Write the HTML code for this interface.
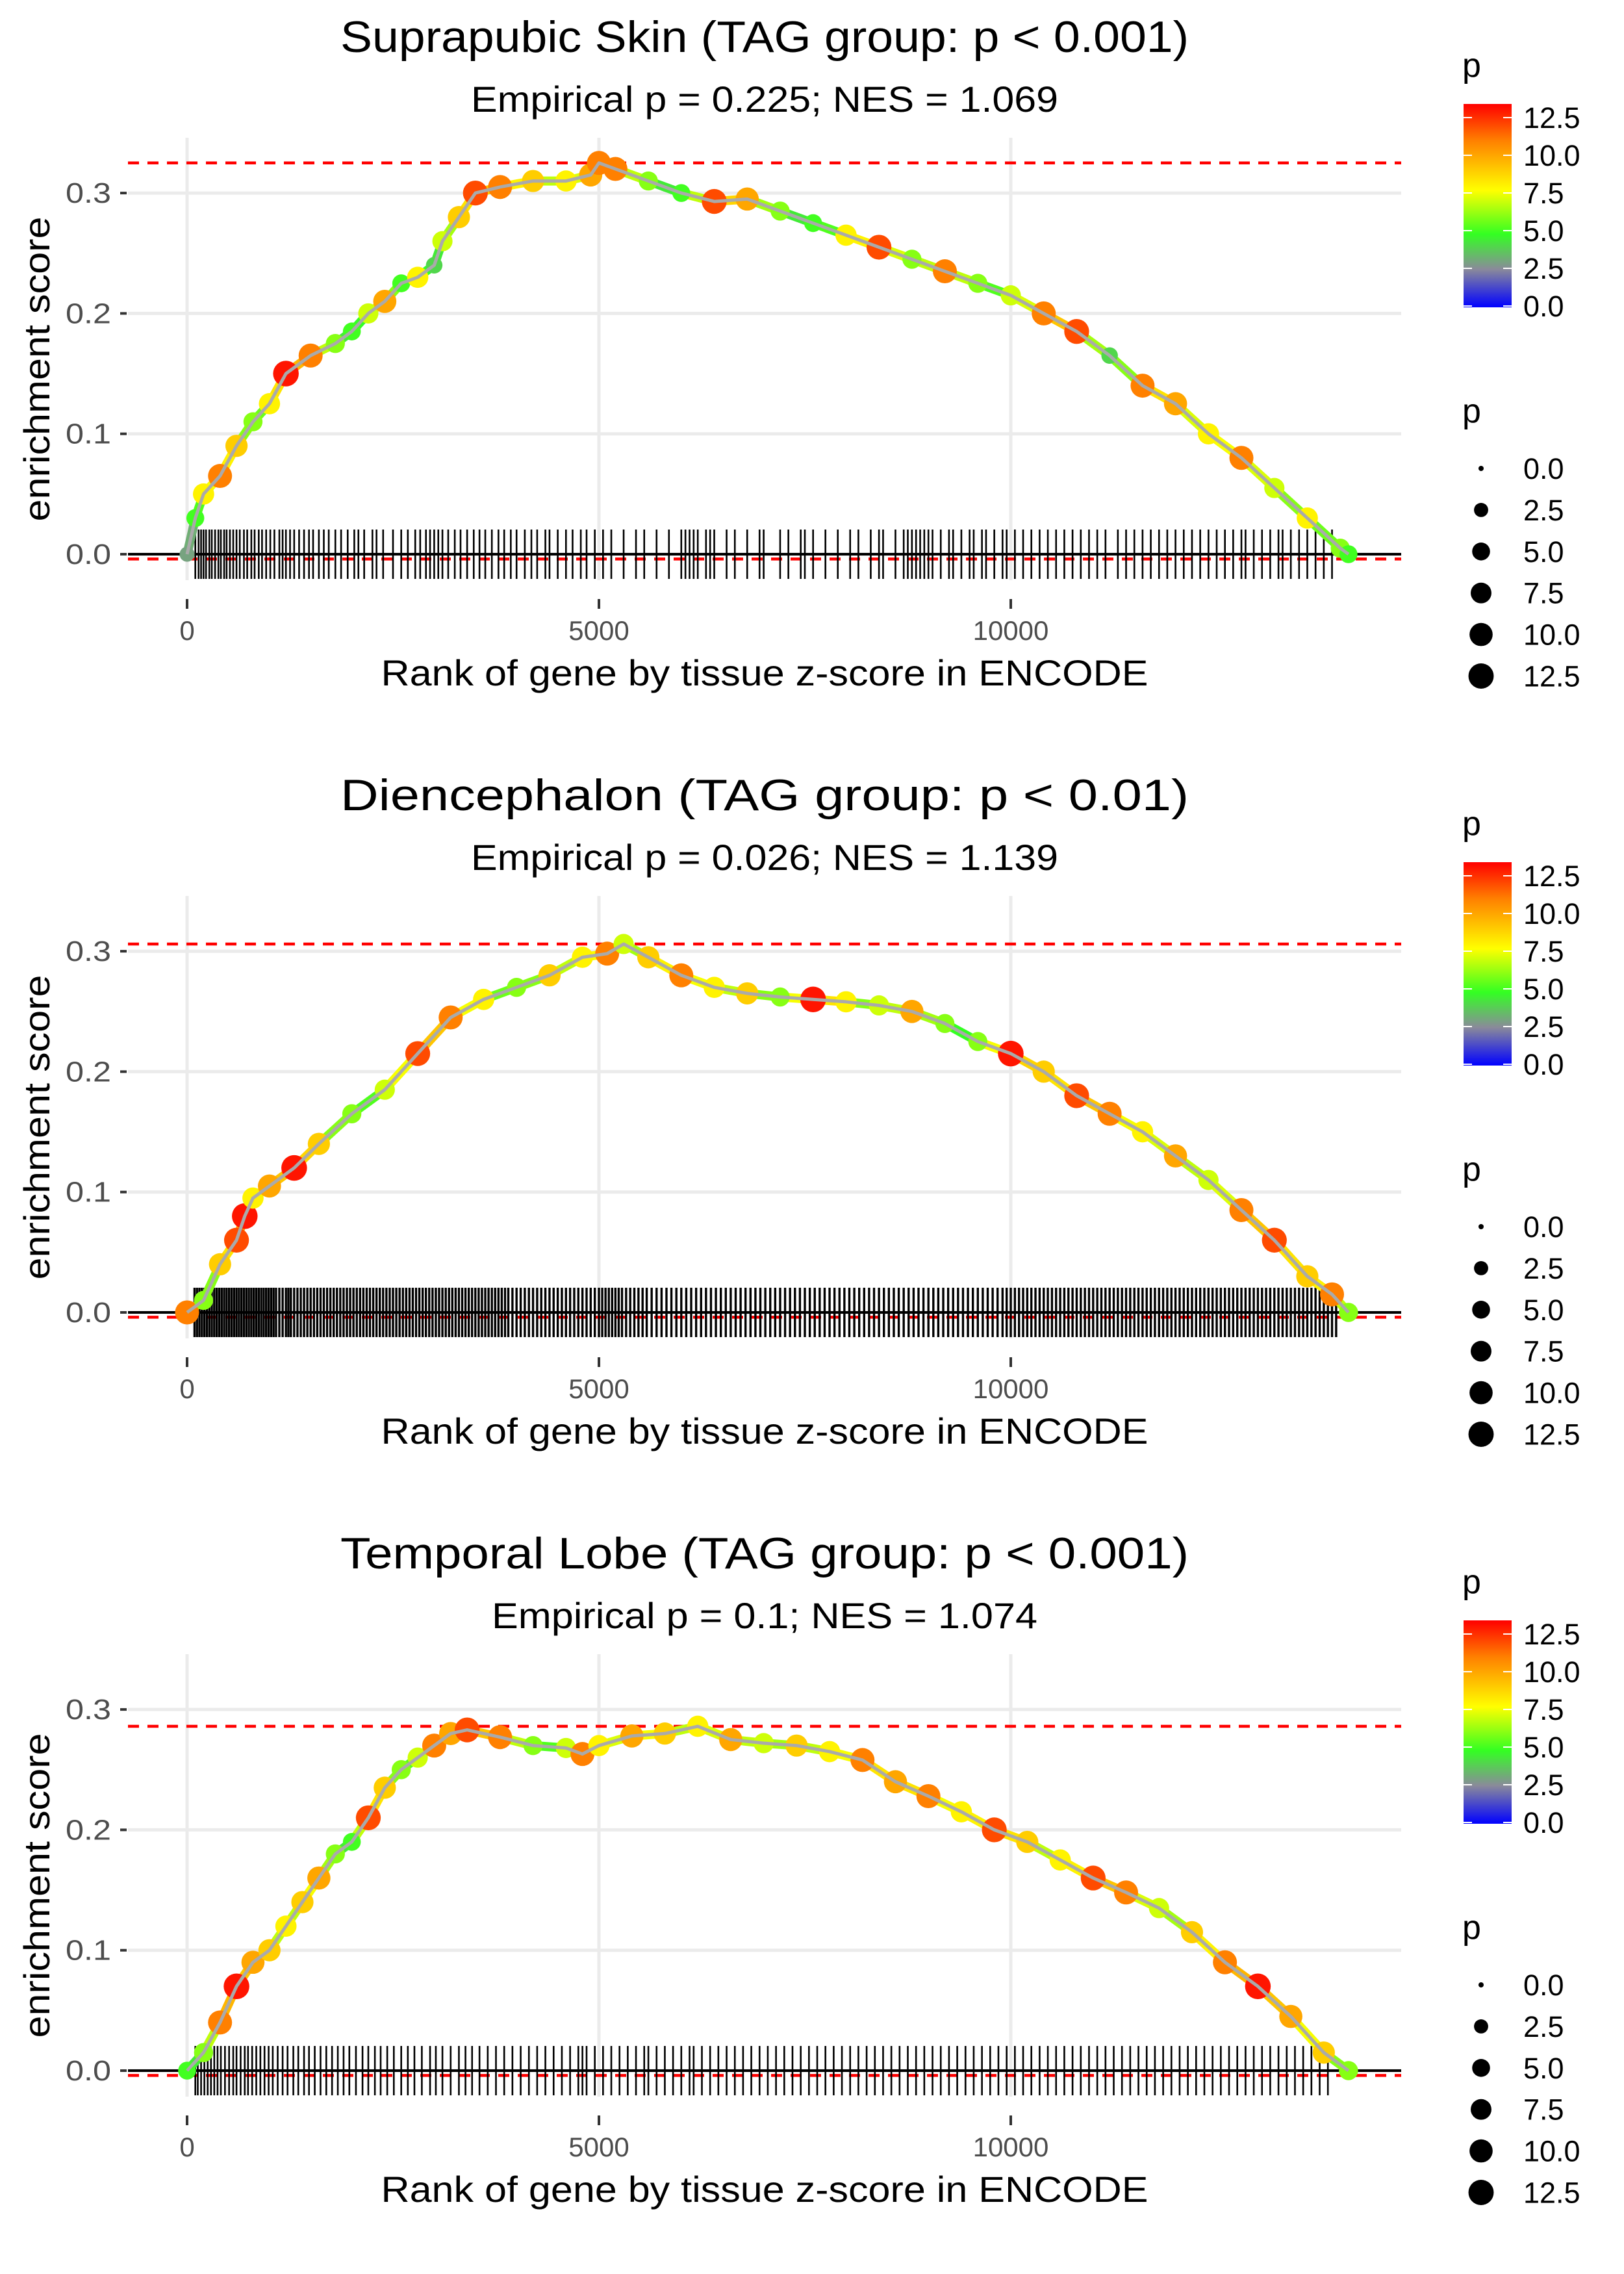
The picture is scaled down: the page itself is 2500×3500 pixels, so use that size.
<!DOCTYPE html>
<html><head><meta charset="utf-8">
<style>
html,body{margin:0;padding:0;background:#fff;}
svg{display:block;font-family:"Liberation Sans",sans-serif;}
</style></head>
<body>
<svg id="chart" width="2500" height="3500" viewBox="0 0 2500 3500" xmlns="http://www.w3.org/2000/svg">
<defs>
<linearGradient id="cbar" x1="0" y1="1" x2="0" y2="0">
<stop offset="0" stop-color="#0000ff"/>
<stop offset="0.187" stop-color="#8a8a9a"/>
<stop offset="0.36" stop-color="#33ff22"/>
<stop offset="0.575" stop-color="#ffff00"/>
<stop offset="0.82" stop-color="#ff8000"/>
<stop offset="1" stop-color="#ff0000"/>
</linearGradient>
</defs>
</svg>
<script>
// ---- data ----
const panelTitles = ["Suprapubic Skin (TAG group: p < 0.001)","Diencephalon (TAG group: p < 0.01)","Temporal Lobe (TAG group: p < 0.001)"];
const panelSubtitles = ["Empirical p = 0.225; NES = 1.069","Empirical p = 0.026; NES = 1.139","Empirical p = 0.1; NES = 1.074"];
const xTicks = [0,5000,10000];
const xTickLabels = ["0","5000","10000"];
const yTicks = [0,0.1,0.2,0.3];
const yTickLabels = ["0.0","0.1","0.2","0.3"];
const legendTicks = [0,2.5,5,7.5,10,12.5];
const legendLabels = ["0.0","2.5","5.0","7.5","10.0","12.5"];

const ranks1 = [0,100,200,400,600,800,1000,1200,1500,1800,2000,2200,2400,2600,2800,3000,3100,3300,3500,3800,4200,4600,4900,5000,5200,5600,6000,6400,6800,7200,7600,8000,8400,8800,9200,9600,10000,10400,10800,11200,11600,12000,12400,12800,13200,13600,14000,14100];
const es1 = [0,0.03,0.05,0.065,0.09,0.11,0.125,0.15,0.165,0.175,0.185,0.2,0.21,0.225,0.23,0.24,0.26,0.28,0.3,0.305,0.31,0.31,0.315,0.325,0.32,0.31,0.3,0.293,0.295,0.285,0.275,0.265,0.255,0.245,0.235,0.225,0.215,0.2,0.185,0.165,0.14,0.125,0.1,0.08,0.055,0.03,0.005,0];
const p1 = [3,5,8,11,9,6,8,13,11,6,5,7,10,5,8,4,7,9,12,11,9,8,10,11,11,6,5,12,10,6,5,8,12,6,11,6,7,11,12,4,11,10,8,11,7,8,6,5];
const hits1 = [100,140,170,200,230,270,300,340,380,410,450,480,520,560,600,640,690,730,780,820,870,910,960,1010,1060,1120,1160,1200,1250,1300,1360,1420,1480,1530,1600,1660,1720,1800,1870,1950,2030,2080,2150,2250,2300,2380,2500,2600,2680,2770,2830,2900,2950,3000,3050,3100,3170,3250,3320,3400,3480,3550,3620,3700,3780,3850,3930,4000,4100,4180,4250,4350,4400,4500,4600,4680,4780,4850,4950,5050,5150,5300,5450,5550,5700,5850,6000,6050,6100,6150,6200,6300,6350,6400,6550,6650,6800,6950,7000,7200,7300,7450,7500,7600,7750,7900,8050,8150,8300,8400,8450,8600,8700,8750,8800,8850,8900,8950,9000,9050,9150,9250,9300,9400,9500,9550,9650,9700,9800,9900,9950,10050,10150,10250,10350,10450,10550,10650,10750,10850,10950,11050,11150,11300,11400,11500,11600,11700,11800,11900,12000,12100,12200,12300,12400,12500,12600,12700,12800,12850,12950,13050,13150,13250,13300,13400,13500,13600,13700,13800,13900];

const ranks2 = [0,200,400,600,700,800,1000,1300,1600,2000,2400,2800,3200,3600,4000,4400,4800,5100,5300,5600,6000,6400,6800,7200,7600,8000,8400,8800,9200,9600,10000,10400,10800,11200,11600,12000,12400,12800,13200,13600,13900,14100];
const es2 = [0,0.01,0.04,0.06,0.08,0.095,0.105,0.12,0.14,0.165,0.185,0.215,0.245,0.26,0.27,0.28,0.295,0.298,0.306,0.295,0.28,0.27,0.265,0.262,0.26,0.258,0.255,0.25,0.24,0.225,0.215,0.2,0.18,0.165,0.15,0.13,0.11,0.085,0.06,0.03,0.015,0];
const p2 = [11,6,9,12,13,8,10,13,9,6,7,12,11,8,6,9,8,11,7,9,11,8,9,6,13,8,7,10,6,6,13,9,12,11,8,10,7,11,12,9,11,6];
const hits2 = [];
const hits2Str = "90,120,150,180,210,240,270,300,330,360,390,420,450,480,510,540,570,600,630,660,690,720,750,780,810,840,870,900,930,960,990,1020,1050,1080,1120,1160,1200,1230,1260,1300,1340,1380,1420,1460,1500,1540,1580,1620,1660,1700,1740,1780,1820,1860,1900,1940,1980,2020,2060,2100,2140,2180,2220,2260,2300,2340,2380,2420,2460,2500,2540,2580,2620,2660,2700,2740,2780,2820,2860,2900,2940,2980,3020,3060,3100,3140,3180,3220,3260,3300,3340,3380,3420,3460,3500,3540,3580,3620,3660,3700,3740,3780,3820,3860,3900,3950,4000,4050,4100,4150,4200,4250,4300,4350,4400,4450,4500,4550,4600,4650,4700,4750,4800,4850,4900,4950,5000,5040,5080,5120,5160,5200,5240,5280,5330,5380,5430,5480,5530,5580,5640,5700,5760,5820,5880,5940,6000,6060,6120,6180,6240,6300,6360,6420,6480,6540,6600,6660,6720,6780,6840,6900,6960,7020,7080,7140,7200,7260,7320,7380,7440,7500,7560,7620,7680,7740,7800,7860,7920,7980,8040,8100,8160,8220,8280,8340,8400,8460,8520,8580,8640,8700,8760,8820,8880,8940,9000,9060,9120,9180,9240,9300,9360,9420,9480,9540,9600,9660,9720,9780,9840,9900,9950,10000,10050,10100,10150,10200,10250,10300,10350,10400,10450,10500,10550,10600,10650,10700,10750,10800,10850,10900,10950,11000,11050,11100,11150,11200,11250,11300,11350,11400,11450,11500,11550,11600,11650,11700,11750,11800,11850,11900,11950,12000,12050,12100,12150,12200,12250,12300,12350,12400,12450,12500,12550,12600,12650,12700,12750,12800,12850,12900,12950,13000,13050,13100,13150,13200,13250,13300,13350,13400,13450,13500,13550,13600,13650,13700,13750,13800,13850,13900,13950";
hits2Str.split(",").forEach(v=>hits2.push(+v));

const ranks3 = [0,200,400,600,800,1000,1200,1400,1600,1800,2000,2200,2400,2600,2800,3000,3200,3400,3800,4200,4600,4800,5000,5400,5800,6200,6600,7000,7400,7800,8200,8600,9000,9400,9800,10200,10600,11000,11400,11800,12200,12600,13000,13400,13800,14100];
const es3 = [0,0.015,0.04,0.07,0.09,0.1,0.12,0.14,0.16,0.18,0.19,0.21,0.235,0.25,0.26,0.27,0.28,0.283,0.277,0.27,0.268,0.263,0.27,0.278,0.28,0.286,0.275,0.272,0.27,0.265,0.258,0.24,0.228,0.215,0.2,0.19,0.175,0.16,0.148,0.135,0.115,0.09,0.07,0.045,0.015,0];
const p3 = [5,6,11,13,10,9,8,9,10,6,5,12,9,6,7,11,10,12,11,6,7,11,8,10,9,8,10,7,9,8,11,10,11,8,12,9,8,12,11,7,9,11,13,10,9,6];
const hits3 = [100,130,170,210,250,290,330,370,410,460,510,560,600,650,700,740,790,840,890,940,990,1040,1100,1160,1220,1290,1350,1420,1480,1550,1620,1690,1760,1830,1900,1970,2050,2130,2200,2280,2350,2430,2510,2600,2680,2760,2850,2950,3020,3100,3200,3300,3380,3460,3550,3650,3750,3850,3950,4050,4150,4250,4350,4450,4550,4650,4750,4800,4850,4950,5050,5150,5250,5350,5450,5550,5600,5700,5800,5900,6000,6100,6150,6250,6350,6450,6550,6650,6750,6850,6950,7050,7150,7250,7350,7450,7550,7650,7750,7850,7950,8050,8150,8250,8350,8450,8550,8650,8750,8850,8950,9050,9150,9250,9350,9450,9550,9650,9750,9850,9950,10050,10150,10250,10350,10450,10550,10650,10750,10850,10950,11050,11150,11250,11350,11450,11550,11650,11750,11850,11950,12050,12150,12250,12350,12450,12550,12650,12750,12850,12950,13050,13150,13250,13350,13450,13550,13650,13750,13850];

const panelRanks = [ranks1,ranks2,ranks3];
const panelES = [es1,es2,es3];
const panelP = [p1,p2,p3];
const panelHits = [hits1,hits2,hits3];

// ---- drawing ----
const NS="http://www.w3.org/2000/svg";
const svg=document.getElementById('chart');
function mk(tag,attrs,parent){const e=document.createElementNS(NS,tag);for(const k in attrs)e.setAttribute(k,attrs[k]);(parent||svg).appendChild(e);return e;}
const PLOT_L=197,PLOT_R=2157;
const PANEL_DY=1167;
function X(r){return 288+r*0.1268;}
function Yf(k){const y0=853+k*PANEL_DY;return v=>y0-v*1853;}
const stops=[[0,[0,0,255]],[2.5,[138,138,154]],[4.8,[51,255,34]],[7.7,[255,255,0]],[11,[255,128,0]],[13.4,[255,0,0]]];
function col(p){for(let i=1;i<stops.length;i++){if(p<=stops[i][0]){const a=stops[i-1],b=stops[i];const t=(p-a[0])/(b[0]-a[0]);const c=a[1].map((v,j)=>Math.round(v+(b[1][j]-v)*t));return `rgb(${c.join(',')})`;}}return 'rgb(255,0,0)';}
function rad(p){return 4+16*Math.sqrt(Math.max(p,0)/13.4);}

for(let k=0;k<3;k++){
  const Y=Yf(k), off=k*PANEL_DY;
  const g=mk('g',{});
  
  
  yTicks.forEach((t,i)=>{
    const l=mk('line',{x1:PLOT_L,x2:PLOT_R,y1:Y(t),y2:Y(t),stroke:'#ebebeb','stroke-width':5},g);
    
    
    const tk=mk('line',{x1:PLOT_L-12,x2:PLOT_L-2,y1:Y(t),y2:Y(t),stroke:'#333','stroke-width':4},g);
    
    
    const tx=mk('text',{x:PLOT_L-26,y:Y(t)+15,'text-anchor':'end','font-size':44,fill:'#4d4d4d',textLength:70,lengthAdjust:'spacingAndGlyphs'},g);
    tx.textContent=yTickLabels[i];
    
    
  });
  xTicks.forEach((t,i)=>{
    const l=mk('line',{x1:X(t),x2:X(t),y1:212+off,y2:893+off,stroke:'#ebebeb','stroke-width':5},g);
    
    
    const tk=mk('line',{x1:X(t),x2:X(t),y1:922+off,y2:937+off,stroke:'#333','stroke-width':4},g);
    
    
    const tx=mk('text',{x:X(t),y:985+off,'text-anchor':'middle','font-size':42,fill:'#4d4d4d'},g);
    tx.textContent=xTickLabels[i];
    
    
  });
  const es=panelES[k], rk=panelRanks[k], pp=panelP[k];
  const mx=Math.max(...es), mn=Math.min(...es, -0.004);
  [mx,mn].forEach((v,i)=>{
    const l=mk('line',{x1:PLOT_L,x2:PLOT_R,y1:Y(v),y2:Y(v),stroke:'#ff0000','stroke-width':4.5,'stroke-dasharray':'17 13'},g);
    
    
  });
  panelHits[k].forEach(h=>{
    const l=mk('line',{x1:X(h),x2:X(h),y1:Y(0.0205),y2:Y(-0.0205),stroke:'#000','stroke-width':k==1?3.4:2.6},g);
    
    
  });
  const z=mk('line',{x1:PLOT_L,x2:PLOT_R,y1:Y(0),y2:Y(0),stroke:'#000','stroke-width':4},g);
  
  
  for(let i=1;i<rk.length;i++){
    const s=mk('line',{x1:X(rk[i-1]),y1:Y(es[i-1]),x2:X(rk[i]),y2:Y(es[i]),stroke:col((pp[i-1]+pp[i])/2*0.8),'stroke-width':14,'stroke-linecap':'round'},g);
    
    
  }
  rk.forEach((r,i)=>{
    const c=mk('circle',{cx:X(r),cy:Y(es[i]),r:rad(pp[i]),fill:col(pp[i])},g);
    
    
  });
  const pl=mk('polyline',{points:rk.map((r,i)=>X(r)+','+Y(es[i])).join(' '),fill:'none',stroke:'#aaaaaa','stroke-width':5,'stroke-linejoin':'round'},g);
  
  
  const t=mk('text',{x:1177,y:80+off,'text-anchor':'middle','font-size':68,fill:'#000',textLength:1306,lengthAdjust:'spacingAndGlyphs'},g);
  t.textContent=panelTitles[k];
  
  
  const st=mk('text',{x:1177,y:172+off,'text-anchor':'middle','font-size':56,fill:'#000',textLength:k==2?840:904,lengthAdjust:'spacingAndGlyphs'},g);
  st.textContent=panelSubtitles[k];
  
  
  const xt=mk('text',{x:1177,y:1055+off,'text-anchor':'middle','font-size':56,fill:'#000',textLength:1181,lengthAdjust:'spacingAndGlyphs'},g);
  xt.textContent='Rank of gene by tissue z-score in ENCODE';
  
  
  const yt=mk('text',{x:0,y:0,'text-anchor':'middle','font-size':56,fill:'#000',textLength:469,lengthAdjust:'spacingAndGlyphs',transform:`translate(76,${568+off}) rotate(-90)`},g);
  yt.textContent='enrichment score';
  
  
  const lg=mk('g',{},g);
  
  
  const lt=mk('text',{x:2251,y:118+off,'font-size':52,fill:'#000'},lg);
  lt.textContent='p';
  
  
  const cb=mk('rect',{x:2253,y:160+off,width:74,height:313,fill:'url(#cbar)'},lg);
  
  
  const cbY=v=>471+off-v*23.2;
  legendTicks.forEach((v,i)=>{
    mk('line',{x1:2253,x2:2266,y1:cbY(v),y2:cbY(v),stroke:'#fff','stroke-width':2},lg);
    mk('line',{x1:2314,x2:2327,y1:cbY(v),y2:cbY(v),stroke:'#fff','stroke-width':2},lg);
    const tx=mk('text',{x:2345,y:cbY(v)+16,'font-size':45,fill:'#000'},lg);
    tx.textContent=legendLabels[i];
    
    
  });
  const sg=mk('g',{},g);
  
  
  const s2=mk('text',{x:2251,y:650+off,'font-size':52,fill:'#000'},sg);
  s2.textContent='p';
  
  
  legendTicks.forEach((v,i)=>{
    const cy=721+off+i*63.9;
    const c=mk('circle',{cx:2280,cy:cy,r:rad(v),fill:'#000'},sg);
    
    
    const tx=mk('text',{x:2345,y:cy+16,'font-size':45,fill:'#000'},sg);
    tx.textContent=legendLabels[i];
    
    
  });
}
</script>
</body></html>
